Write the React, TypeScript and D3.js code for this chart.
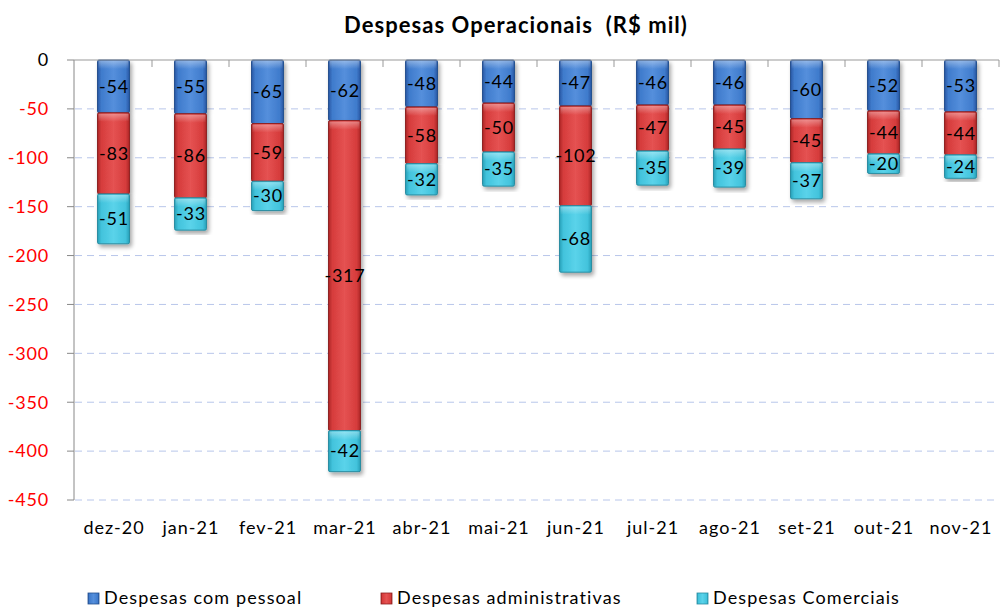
import React from "react";
import * as d3 from "d3";

const categories = ["dez-20","jan-21","fev-21","mar-21","abr-21","mai-21","jun-21","jul-21","ago-21","set-21","out-21","nov-21"];
const pessoal = [-54,-55,-65,-62,-48,-44,-47,-46,-46,-60,-52,-53];
const administrativas = [-83,-86,-59,-317,-58,-50,-102,-47,-45,-45,-44,-44];
const comerciais = [-51,-33,-30,-42,-32,-35,-68,-35,-39,-37,-20,-24];
const seriesNames = ["Despesas com pessoal","Despesas administrativas","Despesas Comerciais"];
const yTicks = [0,-50,-100,-150,-200,-250,-300,-350,-400,-450];

const colors = [
  { id: "gBlue", dark: "#2857a3", mid: "#3f7bcc", light: "#558fdc", stroke: "#25508f" },
  { id: "gRed", dark: "#ad2626", mid: "#d63c3c", light: "#e55252", stroke: "#8e2020" },
  { id: "gCyan", dark: "#28a0b8", mid: "#42c3dc", light: "#5ad3ea", stroke: "#2a8da2" },
];

const FONT = "Lato, 'Open Sans', sans-serif";

export default function App() {
  const W = 1000, H = 610;
  const x = d3.scaleBand<string>().domain(categories).range([75, 999]).paddingInner(0.585).paddingOuter(0.2925);
  const xb = d3.scaleBand<string>().domain(categories).range([75, 999]);
  const y = d3.scaleLinear().domain([-450, 0]).range([500, 60]);
  const series = [pessoal, administrativas, comerciais];
  const stack = categories.map((c, i) => {
    let acc = 0;
    return series.map((s, k) => {
      const top = acc;
      acc += s[i];
      return { k, top, bottom: acc, v: s[i], c };
    });
  });

  return (
    <svg width={W} height={H} style={{ display: "block", position: "absolute", left: 0, top: 0 }}>
      <defs>
        {colors.map((c) => (
          <linearGradient key={c.id} id={c.id} x1="0" x2="1" y1="0" y2="0">
            <stop offset="0" stopColor={c.dark} />
            <stop offset="0.12" stopColor={c.mid} />
            <stop offset="0.5" stopColor={c.light} />
            <stop offset="0.88" stopColor={c.mid} />
            <stop offset="1" stopColor={c.dark} />
          </linearGradient>
        ))}
        <linearGradient id="topHi" x1="0" x2="0" y1="0" y2="1">
          <stop offset="0" stopColor="#fff" stopOpacity="0.35" />
          <stop offset="1" stopColor="#fff" stopOpacity="0" />
        </linearGradient>
        <filter id="shadow" x="-20%" y="-5%" width="150%" height="120%">
          <feGaussianBlur in="SourceAlpha" stdDeviation="2" />
          <feOffset dx="2" dy="3" result="ob" />
          <feComponentTransfer><feFuncA type="linear" slope="0.35" /></feComponentTransfer>
          <feMerge><feMergeNode /><feMergeNode in="SourceGraphic" /></feMerge>
        </filter>
      </defs>
      <rect width={W} height={H} fill="#fff" />
      <text x={516} y={33} textAnchor="middle" fontFamily={FONT} fontWeight="bold" fontSize={22} letterSpacing={1.05} style={{ whiteSpace: "pre" }}>
        {"Despesas Operacionais  (R$ mil)"}
      </text>
      {yTicks.filter((t) => t !== 0).map((t) => (
        <line key={t} x1={75} x2={999} y1={y(t)} y2={y(t)} stroke="#b8c6ea" strokeDasharray="7,5" strokeWidth={1} />
      ))}
      {yTicks.map((t) => (
        <g key={"yt" + t}>
          <line x1={67} x2={74} y1={y(t)} y2={y(t)} stroke="#888" />
          <text x={49} y={y(t)} dy="0.35em" textAnchor="end" fontFamily={FONT} fontSize={18} letterSpacing={0.8} fill={t === 0 ? "#000" : "#ff0000"}>
            {t}
          </text>
        </g>
      ))}
      <line x1={74} x2={74} y1={60} y2={500} stroke="#888" />
      {categories.map((c, i) => (
        <g key={c}>
          {stack[i].map((s) => (
            <g key={s.k} filter="url(#shadow)">
              <rect x={x(c)} y={y(s.top)} width={x.bandwidth()} height={y(s.bottom) - y(s.top)} fill={`url(#${colors[s.k].id})`} stroke={colors[s.k].stroke} strokeWidth={1} rx={1.5} />
              <rect x={(x(c) as number) + 1} y={y(s.top) + 1} width={x.bandwidth() - 2} height={Math.min(8, y(s.bottom) - y(s.top) - 2)} fill="url(#topHi)" />
            </g>
          ))}
          {stack[i].map((s) => (
            <text key={"l" + s.k} x={(x(c) as number) + x.bandwidth() / 2 + 0.5} y={(y(s.top) + y(s.bottom)) / 2} dy="0.35em" textAnchor="middle" fontFamily={FONT} fontSize={18} letterSpacing={0.8} fill="#000">
              {s.v}
            </text>
          ))}
          <text x={(xb(c) as number) + xb.bandwidth() / 2 + 0.5} y={528} dy="0.35em" textAnchor="middle" fontFamily={FONT} fontSize={18} letterSpacing={1} fill="#000">
            {c}
          </text>
        </g>
      ))}
      <line x1={74} x2={999} y1={60} y2={60} stroke="#999" />
      {categories.map((c) => (
        <line key={"xt" + c} x1={(xb(c) as number) + xb.bandwidth()} x2={(xb(c) as number) + xb.bandwidth()} y1={60} y2={67} stroke="#999" />
      ))}
      {seriesNames.map((n, k) => {
        const lx = [88, 381, 697][k];
        return (
          <g key={n}>
            <rect x={lx} y={593} width={11} height={11} fill={`url(#${colors[k].id})`} stroke={colors[k].stroke} strokeWidth={0.8} />
            <text x={lx + 16} y={604} fontFamily={FONT} fontSize={18} letterSpacing={1.1} fill="#000">{n}</text>
          </g>
        );
      })}
    </svg>
  );
}
